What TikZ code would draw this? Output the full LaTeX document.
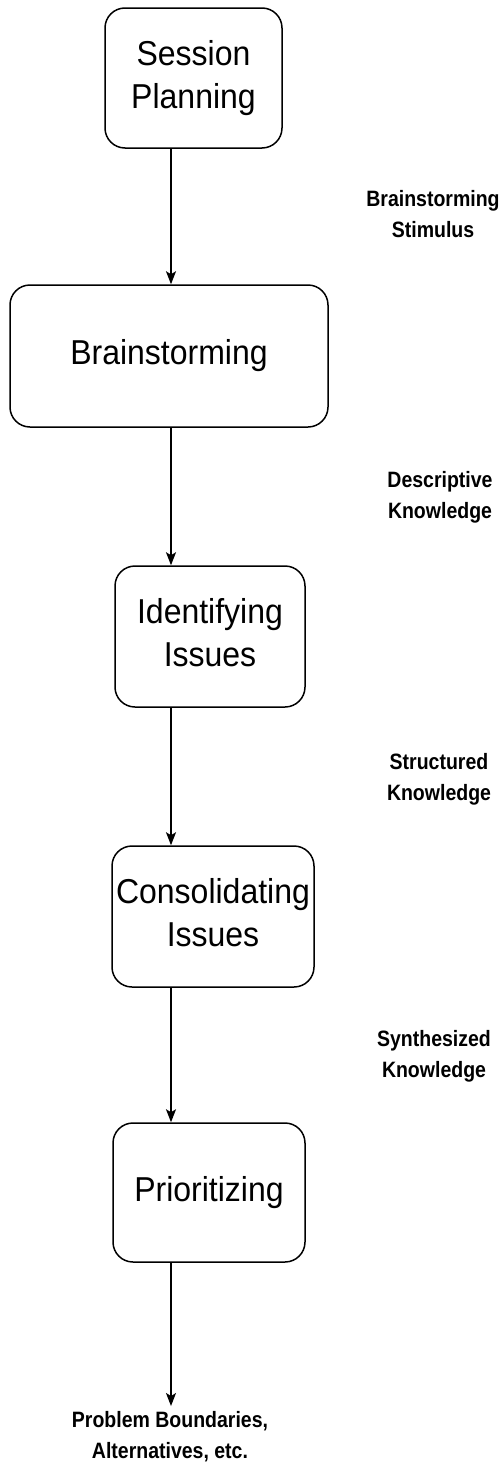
\documentclass[tikz,border=0pt]{standalone}
\usepackage{fontspec}
\usepackage{graphicx}
\setmainfont{Liberation Sans}
\usetikzlibrary{arrows.meta}
% text set a little taller than wide
\newcommand{\tallbox}[2]{\scalebox{1}[#1]{\begin{tabular}{@{}c@{}}#2\end{tabular}}}
\begin{document}
\begin{tikzpicture}[x=1pt,y=-1pt,
  stage/.style={draw,line width=1.5pt,rounded corners=20pt,align=center,
    inner sep=0pt,font=\fontsize{32}{40}\selectfont},
  flowlabel/.style={align=center,inner sep=0pt,
    font=\bfseries\fontsize{19.5}{27}\selectfont},
  flow/.style={line width=1.5pt,-{Stealth[length=13pt,width=10pt,inset=3pt]}}]
  \useasboundingbox (0,0) rectangle (502,1483);
  % process stages
  \node[stage,minimum width=177pt,minimum height=140pt] (plan) at (193.5,78) {\tallbox{1.08}{Session\\Planning}};
  \node[stage,minimum width=318pt,minimum height=142pt] (brain) at (169,356) {\tallbox{1.08}{Brainstorming}};
  \node[stage,minimum width=190pt,minimum height=141pt] (ident) at (210,636.5) {\tallbox{1.08}{Identifying\\Issues}};
  \node[stage,minimum width=202pt,minimum height=141pt] (cons) at (213,916.5) {\tallbox{1.08}{Consolidating\\Issues}};
  \node[stage,minimum width=192pt,minimum height=139pt] (prio) at (209,1192.5) {\tallbox{1.08}{Prioritizing}};
  % what flows between the stages
  \node[flowlabel] (l1) at (433,216) {\tallbox{1.14}{Brainstorming\\Stimulus}};
  \node[flowlabel] (l2) at (440,497) {\tallbox{1.14}{Descriptive\\Knowledge}};
  \node[flowlabel] (l3) at (439,779) {\tallbox{1.14}{Structured\\Knowledge}};
  \node[flowlabel] (l4) at (434,1056) {\tallbox{1.14}{Synthesized\\Knowledge}};
  \node[flowlabel] (out) at (170,1437) {\tallbox{1.14}{Problem Boundaries,\\Alternatives, etc.}};
  % vertical spine of the connectors
  \coordinate (ax) at (171,0);
  \draw[flow] (plan.south -| ax) -- (brain.north -| ax);
  \draw[flow] (brain.south -| ax) -- (ident.north -| ax);
  \draw[flow] (ident.south -| ax) -- (cons.north -| ax);
  \draw[flow] (cons.south -| ax) -- (prio.north -| ax);
  \draw[flow] (prio.south -| ax) -- (out.north -| ax);
\end{tikzpicture}
\end{document}
